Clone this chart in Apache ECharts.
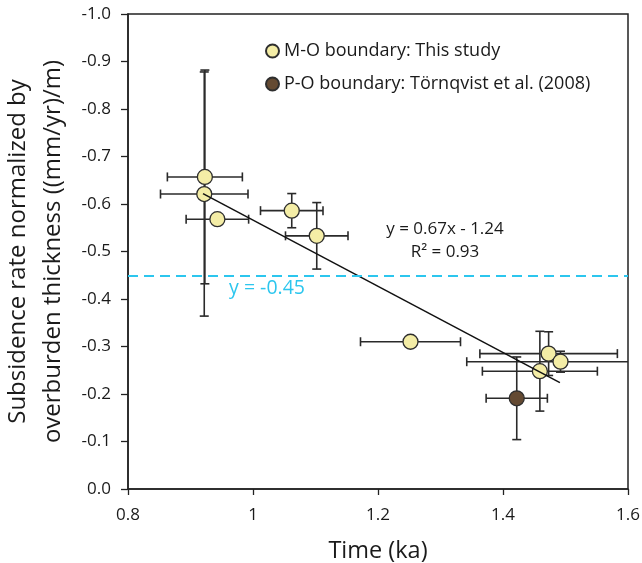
<!DOCTYPE html>
<html>
<head>
<meta charset="utf-8">
<script src="https://cdn.jsdelivr.net/npm/echarts@6/dist/echarts.min.js"></script>
<style>
  html, body { margin: 0; padding: 0; background: #fff; }
  #chart { width: 642px; height: 563px; }
</style>
</head>
<body>
<div id="chart"></div>
<script>
// ---- Data ----
const moName = 'M-O boundary: This study';
const poName = 'P-O boundary: Törnqvist et al. (2008)';

const moTime    = [0.923, 0.922, 0.943, 1.062, 1.102, 1.252, 1.473, 1.492, 1.459];
const moRate    = [-0.657, -0.621, -0.568, -0.586, -0.533, -0.310, -0.285, -0.268, -0.248];
const moTimeErr = [0.06, 0.07, 0.05, 0.05, 0.05, 0.08, 0.11, 0.15, 0.092];
const moRateErr = [0.225, 0.257, 0, 0.036, 0.07, 0, 0.046, 0.022, 0.084];

const poTime    = [1.422];
const poRate    = [-0.191];
const poTimeErr = [0.049];
const poRateErr = [0.087];

const trendTime = [0.92, 1.491];
const trendRate = [-0.622, -0.224];

const refRate = -0.45;
const eqText = 'y = 0.67x - 1.24';
const r2Text = 'R² = 0.93';
const refText = 'y = -0.45';

const xTicks = { min: 0.8, max: 1.6, interval: 0.2 };
const yTicks = { min: -1.0, max: 0.0, interval: 0.1 };

// ---- Build ----
const FONT = 'Open Sans';
const INK = '#1a1a1a';
const ERR = '#2a2a2a';

const moPoints = moTime.map((t, i) => [t, moRate[i]]);
const poPoints = poTime.map((t, i) => [t, poRate[i]]);
const errRows = moTime.map((t, i) => [t, moRate[i], moTimeErr[i], moRateErr[i]])
  .concat(poTime.map((t, i) => [t, poRate[i], poTimeErr[i], poRateErr[i]]));
const trendPoints = trendTime.map((t, i) => [t, trendRate[i]]);

function renderErr(params, api) {
  const x = api.value(0), y = api.value(1), ex = api.value(2), ey = api.value(3);
  const cs = params.coordSys;
  const x0 = cs.x, x1 = cs.x + cs.width, y0 = cs.y, y1 = cs.y + cs.height;
  const cap = 4.5;
  const style = { stroke: ERR, lineWidth: 1.6, fill: null };
  const kids = [];
  const clampX = v => Math.max(x0, Math.min(x1, v));
  const clampY = v => Math.max(y0, Math.min(y1, v));
  if (ex > 0) {
    const l = api.coord([x - ex, y]), r = api.coord([x + ex, y]);
    kids.push({ type: 'line', shape: { x1: clampX(l[0]), y1: l[1], x2: clampX(r[0]), y2: r[1] }, style });
    if (l[0] >= x0) kids.push({ type: 'line', shape: { x1: l[0], y1: l[1] - cap, x2: l[0], y2: l[1] + cap }, style });
    if (r[0] <= x1) kids.push({ type: 'line', shape: { x1: r[0], y1: r[1] - cap, x2: r[0], y2: r[1] + cap }, style });
  }
  if (ey > 0) {
    const a = api.coord([x, y - ey]), b = api.coord([x, y + ey]);
    kids.push({ type: 'line', shape: { x1: a[0], y1: clampY(a[1]), x2: b[0], y2: clampY(b[1]) }, style });
    [a, b].forEach(p => {
      if (p[1] >= y0 && p[1] <= y1)
        kids.push({ type: 'line', shape: { x1: p[0] - cap, y1: p[1], x2: p[0] + cap, y2: p[1] }, style });
    });
  }
  return { type: 'group', children: kids };
}

const chart = echarts.init(document.getElementById('chart'), null, { renderer: 'canvas' });
chart.setOption({
  backgroundColor: '#fff',
  animation: false,
  textStyle: { fontFamily: FONT },
  grid: {
    left: 128, right: 14, top: 14, bottom: 74,
    containLabel: false, outerBoundsMode: 'none',
    show: true, borderColor: '#222', borderWidth: 1.5
  },
  legend: {
    data: [moName, poName],
    orient: 'vertical',
    left: 260, top: 36,
    itemWidth: 13, itemHeight: 13, itemGap: 13, itemTextGap: 5,
    icon: 'circle',
    selectedMode: false,
    textStyle: { fontFamily: FONT, fontSize: 18, color: INK, lineHeight: 20 }
  },
  xAxis: {
    type: 'value', min: xTicks.min, max: xTicks.max, interval: xTicks.interval,
    splitLine: { show: false },
    axisLine: { show: true, onZero: false, lineStyle: { color: '#222', width: 1.5 } },
    axisTick: { show: true, inside: false, length: 6, lineStyle: { color: '#222', width: 1.3 } },
    axisLabel: { fontSize: 17, color: INK, margin: 18, fontFamily: FONT },
    name: 'Time (ka)', nameLocation: 'middle', nameGap: 50,
    nameTextStyle: { fontSize: 23.5, color: INK, fontFamily: FONT }
  },
  yAxis: {
    type: 'value', min: yTicks.min, max: yTicks.max, interval: yTicks.interval, inverse: true,
    splitLine: { show: false },
    axisLine: { show: true, onZero: false, lineStyle: { color: '#222', width: 1.5 } },
    axisTick: { show: true, inside: false, length: 7, lineStyle: { color: '#222', width: 1.3 } },
    axisLabel: { fontSize: 17, color: INK, margin: 17, fontFamily: FONT, formatter: v => v.toFixed(1) },
    name: 'Subsidence rate normalized by\noverburden thickness ((mm/yr)/m)',
    nameLocation: 'middle', nameGap: 56, nameRotate: 90,
    nameTextStyle: { fontSize: 24, color: INK, lineHeight: 35, fontFamily: FONT }
  },
  series: [
    {
      name: 'errors', type: 'custom', renderItem: renderErr,
      data: errRows, encode: { x: 0, y: 1 }, z: 2, silent: true
    },
    {
      name: moName, type: 'scatter', data: moPoints, symbol: 'circle', symbolSize: 15, z: 3,
      itemStyle: { color: '#F4EDA6', borderColor: '#2e2e2e', borderWidth: 1.3, opacity: 1 }
    },
    {
      name: poName, type: 'scatter', data: poPoints, symbol: 'circle', symbolSize: 15, z: 3,
      itemStyle: { color: '#644A32', borderColor: '#2e2e2e', borderWidth: 1.3, opacity: 1 }
    },
    {
      name: 'trend', type: 'line', data: trendPoints, symbol: 'none', z: 4, silent: true,
      lineStyle: { color: '#111', width: 1.5 },
      markLine: {
        silent: true, symbol: 'none',
        label: { show: false },
        lineStyle: { color: '#2CC6EE', type: [10, 6], width: 2 },
        data: [{ yAxis: refRate }]
      }
    }
  ],
  graphic: [
    { type: 'text', x: 445, y: 229, style: { text: eqText, fontSize: 17, fontFamily: FONT, fill: INK, align: 'center', verticalAlign: 'middle' } },
    { type: 'text', x: 445, y: 252, style: { text: r2Text, fontSize: 17, fontFamily: FONT, fill: INK, align: 'center', verticalAlign: 'middle' } },
    { type: 'text', x: 267, y: 288, style: { text: refText, fontSize: 19.5, fontFamily: FONT, fill: '#2CC6EE', align: 'center', verticalAlign: 'middle' } }
  ]
});
</script>
</body>
</html>
